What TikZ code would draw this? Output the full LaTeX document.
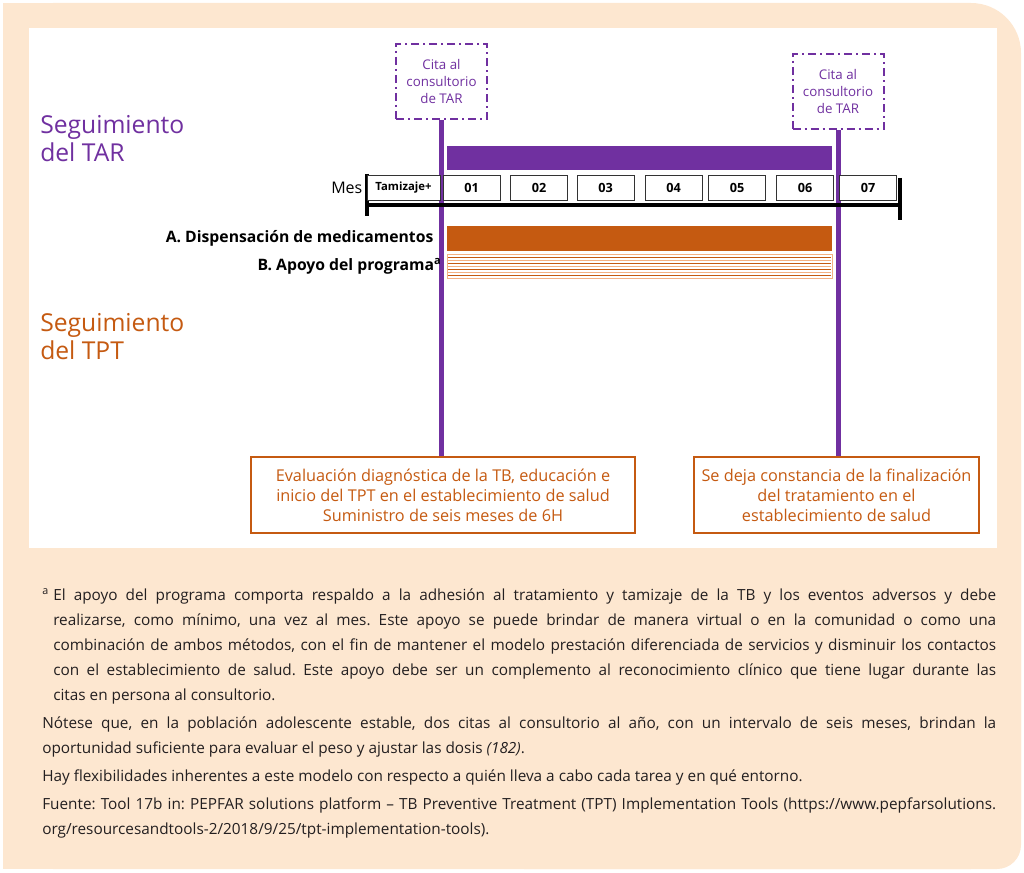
\documentclass[tikz,border=0pt]{standalone}
\usepackage{fontspec}
\setmainfont{Open Sans}
\usetikzlibrary{positioning}
\definecolor{tarpurple}{HTML}{7030A0}
\definecolor{tptorange}{HTML}{C55A11}
\definecolor{lightorange}{HTML}{F4B183}
\definecolor{panelbeige}{HTML}{FDE7D0}
\definecolor{notegray}{HTML}{231F20}
\frenchspacing

\begin{document}
\begin{tikzpicture}[x=0.75pt, y=-0.75pt,
  cita/.style={draw=tarpurple, line width=1.5pt, dash pattern=on 6pt off 3pt on 1.5pt off 3pt,
    text=tarpurple, align=center, font=\fontsize{10}{13}\selectfont,
    minimum width=68.25pt, minimum height=56.25pt, inner sep=0pt},
  month/.style={draw=black!80, fill=white, line width=0.6pt, minimum width=42.75pt,
    minimum height=18.75pt, inner sep=0pt, font=\bfseries\fontsize{9.5}{11}\selectfont},
  result/.style={draw=tptorange, line width=1.2pt, fill=white, text=tptorange, align=center,
    minimum height=57pt, inner sep=0pt, font=\fontsize{12.2}{15}\selectfont},
  heading/.style={anchor=north west, align=left, inner sep=0pt, font=\fontsize{18.5}{21}\selectfont},
  rowlabel/.style={font=\bfseries\fontsize{11.8}{13}\selectfont, inner sep=0pt},
  bar/.style={anchor=north west, minimum width=288.75pt, inner sep=0pt},
  visit/.style={tarpurple, line width=3.75pt}
]
\useasboundingbox (0,0) rectangle (1024,873);

% background panel
\fill[panelbeige, rounded corners=37.5pt] (3,3) rectangle (1021,869);
\fill[panelbeige] (3,3) rectangle (500,869);
\fill[panelbeige, rounded corners=18pt] (500,436) rectangle (1021,869);
\fill[white] (29,28) rectangle (997,548);

% headings
\node[heading, text=tarpurple] (tarhead) at (40,115) {Seguimiento\\del TAR};
\node[heading, text=tptorange] (tpthead) at (40,313) {Seguimiento\\del TPT};

% visits
\node[cita] (citaA) at (441.5,81.5) {Cita al\\consultorio\\de TAR};
\node[cita] (citaB) at (838,91.5) {Cita al\\consultorio\\de TAR};

% outcome boxes
\node[result, minimum width=288pt] (inicio) at (443,495)
  {Evaluación diagnóstica de la TB, educación e\\inicio del TPT en el establecimiento de salud\\Suministro de seis meses de 6H};
\node[result, minimum width=213.75pt] (fin) at (836.5,495)
  {Se deja constancia de la finalización\\del tratamiento en el\\establecimiento de salud};

\draw[visit] (citaA.south) -- (citaA.south |- inicio.north);
\draw[visit] (citaB.south) -- (citaB.south |- fin.north);

% bars
\node[bar, fill=tarpurple, minimum height=18pt] (tarbar) at (447,146) {};
\node[bar, fill=tptorange, minimum height=18.75pt] (drugbar) at (447,226) {};
\node[bar, draw=lightorange, line width=0.6pt, minimum height=18pt] (supportbar) at (447,254) {};
\foreach \y in {257,263,269,275}
  \draw[tptorange, line width=0.6pt] (448,\y) -- (831,\y);
\foreach \y in {260,266,272}
  \draw[lightorange, line width=0.6pt] (448,\y) -- (831,\y);

\node[rowlabel, left=10pt of drugbar] (druglabel) {A. Dispensación de medicamentos};
\node[rowlabel, left=4pt of supportbar] (supportlabel) {B. Apoyo del programa\textsuperscript{a}};

% timeline
\coordinate (axisL) at (367,205);
\coordinate (axisR) at (900,205);
\draw[line width=3pt] (axisL) -- (axisR);
\draw[line width=2.5pt] (367,174) -- (367,216);
\draw[line width=2.5pt] (900,178) -- (900,220);
\node[month, minimum width=54.75pt, font=\bfseries\fontsize{8.5}{10}\selectfont] (tamizaje) at (403.5,187.5) {Tamizaje+};
\foreach \lab/\cx in {01/471.5,02/539,03/605.5,04/673.5,05/737,06/805,07/868}
  \node[month] (m\lab) at (\cx,187.5) {\lab};
\node[left=3pt of tamizaje, font=\fontsize{12}{14}\selectfont, inner sep=0pt] (mes) {Mes};

% notes
\node[anchor=north west, text width=715.5pt, inner sep=0pt, align=justify, text=notegray,
  font=\fontsize{11.5}{18.9}\selectfont] (notes) at (42,588) {%
  \setlength{\parskip}{2pt}\setlength{\parindent}{0pt}%
  {\hangindent=8.25pt \hangafter=0 \noindent\llap{\makebox[8.25pt][l]{\textsuperscript{a}}}%
  El apoyo del programa comporta respaldo a la adhesión al tratamiento y tamizaje de la TB y los eventos adversos y debe\linebreak
  realizarse, como mínimo, una vez al mes. Este apoyo se puede brindar de manera virtual o en la comunidad o como una\linebreak
  combinación de ambos métodos, con el fin de mantener el modelo prestación diferenciada de servicios y disminuir los contactos\linebreak
  con el establecimiento de salud. Este apoyo debe ser un complemento al reconocimiento clínico que tiene lugar durante las\linebreak
  citas en persona al consultorio.\par}
  Nótese que, en la población adolescente estable, dos citas al consultorio al año, con un intervalo de seis meses, brindan la\linebreak
  oportunidad suficiente para evaluar el peso y ajustar las dosis \textit{(182)}.\par
  Hay flexibilidades inherentes a este modelo con respecto a quién lleva a cabo cada tarea y en qué entorno.\par
  Fuente: Tool 17b in: PEPFAR solutions platform – TB Preventive Treatment (TPT) Implementation Tools (https://www.pepfarsolutions.\linebreak
  org/resourcesandtools-2/2018/9/25/tpt-implementation-tools).\par};
\end{tikzpicture}
\end{document}
